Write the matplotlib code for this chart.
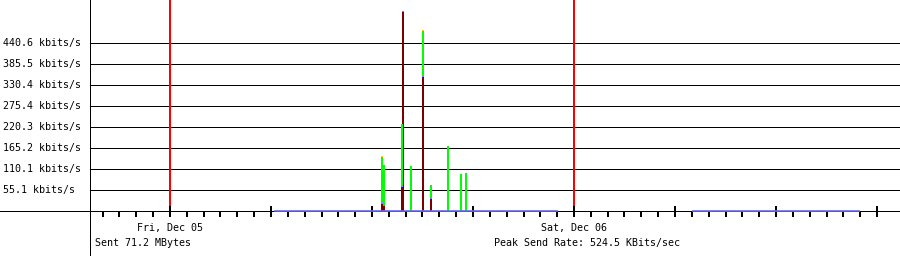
import matplotlib
matplotlib.use('Agg')
import matplotlib.pyplot as plt

# Time of each sample, hours from Fri, Dec 05 00:00
bar_hours = [12.59, 12.71, 13.78, 13.84, 14.32, 15.03, 15.50, 16.52, 17.29, 17.58]
# Stacked send rates, kbits/s (bottom to top)
rate_darkred = [18, 13, 63, 521.5, 0, 351, 31, 0, 0, 0]
rate_purple = [5, 3, 5, 3, 0, 3, 5, 0, 0, 0]
rate_green = [118, 105, 160, 0, 118, 118, 31, 170, 97, 100]
rate_yellow = [3, 0, 0, 0, 0, 3, 0, 0, 0, 0]
# Low idle traffic, start and end hours, kbits/s
idle_spans = [(6.2, 23.0), (31.0, 40.95)]
idle_rate = 3.5

grid_step = 55.07
grid_labels = ['55.1', '110.1', '165.2', '220.3', '275.4', '330.4', '385.5', '440.6']
day_hours = [0, 24]
day_labels = ['Fri, Dec 05', 'Sat, Dec 06']
sent_text = 'Sent 71.2 MBytes'
peak_text = 'Peak Send Rate: 524.5 KBits/sec'

# pixel layout of the 900x256 image
W, H = 900, 256
px_per_hour = 404 / 24.0
x_day0 = 170
y_base = 211
kb_per_px = grid_step / 21.0
x_axis_px = 90
px = 0.72  # one pixel in points at dpi 100

# crisp, gd-like lines
plt.rcParams['lines.antialiased'] = False
plt.rcParams['patch.antialiased'] = False


def px2hour(x):
    return (x - x_day0) / px_per_hour


def create_graph():
    fig = plt.figure(figsize=(W / 100, H / 100), dpi=100)
    ax = fig.add_axes([0, 0, 1, 1])
    ax.set_xlim(px2hour(0), px2hour(W))
    ax.set_ylim(-(H - y_base) * kb_per_px, y_base * kb_per_px)
    ax.axis('off')
    font = dict(family='DejaVu Sans Mono', fontsize=7.2, color='black')

    x_left = px2hour(x_axis_px)
    x_right = px2hour(W)
    # Horizontal grid and labels
    for i, lab in enumerate(grid_labels):
        v = grid_step * (i + 1)
        ax.plot([x_left, x_right], [v, v], color='black', lw=1 * px, zorder=1)
        ax.text(px2hour(3), v, lab + ' kbits/s', ha='left', va='center', **font)

    # Baseline and y axis
    ax.axhline(0, color='black', lw=1 * px, zorder=4)
    ax.axvline(x_left, color='black', lw=1 * px, zorder=4)

    # Day separators
    for h, lab in zip(day_hours, day_labels):
        ax.plot([h, h], [5 * kb_per_px, y_base * kb_per_px], color='#ff0000',
                lw=2 * px, zorder=2)
        ax.text(h, -17 * kb_per_px, lab, ha='center', va='center', **font)

    # Hour ticks
    for h in range(-4, 43):
        if h % 6 == 0:
            ax.plot([h, h], [5 * kb_per_px, -6 * kb_per_px], color='black',
                    lw=2 * px, zorder=5, solid_capstyle='butt')
        else:
            ax.plot([h, h], [0, -5.5 * kb_per_px], color='black',
                    lw=2 * px, zorder=5, solid_capstyle='butt')

    # Stacked bars
    w = 1.2 / px_per_hour
    bottom = [0] * len(bar_hours)
    for vals, col in [(rate_darkred, '#7a0000'), (rate_purple, '#8080ff'),
                      (rate_green, '#00ff00'), (rate_yellow, '#ffd700')]:
        ax.bar(bar_hours, vals, width=w, bottom=bottom, color=col,
               linewidth=0, zorder=3)
        bottom = [b + v for b, v in zip(bottom, vals)]

    # Idle traffic
    for s, e in idle_spans:
        ax.fill_between([s, e], 0, idle_rate, color='#6a6af0', linewidth=0.5,
                        zorder=6)

    ax.text(px2hour(95), -32 * kb_per_px, sent_text, ha='left', va='center', **font)
    ax.text(px2hour(494), -32 * kb_per_px, peak_text, ha='left', va='center', **font)

    fig.savefig('out.png', dpi=100, facecolor='white')


create_graph()
